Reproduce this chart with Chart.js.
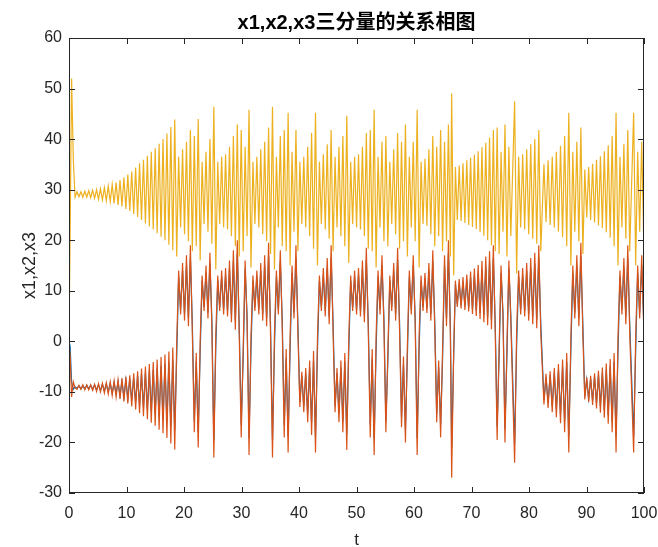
<!DOCTYPE html>
<html>
<head>
<meta charset="utf-8">
<script src="https://cdn.jsdelivr.net/npm/chart.js@4/dist/chart.umd.min.js"></script>
<style>
  html, body { margin:0; padding:0; background:#fff; }
  #box { width:658px; height:547px; }
</style>
</head>
<body>
<div id="box"><canvas id="chart" width="658" height="547"></canvas></div>
<script>
// values: one sample per half loop (peak / trough)
const tVals = [
  0, 0.2, 0.45, 0.75, 1.05,
  1.39, 1.73, 2.07, 2.41, 2.75, 3.09, 3.43, 3.77, 4.11, 4.45, 4.79, 5.13, 5.47, 5.81, 6.15, 6.49, 6.83, 7.17, 7.51, 7.85, 8.19, 8.53, 8.87, 9.21, 9.55, 9.89,
  10.23, 10.57, 10.91, 11.25, 11.59, 11.93, 12.27, 12.61, 12.95, 13.29, 13.63, 13.97, 14.31, 14.65, 14.99, 15.33, 15.67, 16.01, 16.35, 16.69, 17.03, 17.37, 17.71, 18.05, 18.39, 18.73,
  19.07, 19.41, 19.75, 20.09, 20.43, 20.77, 21.11, 21.45, 21.79, 22.13, 22.47, 22.81, 23.15, 23.49, 23.83, 24.17, 24.51, 24.85, 25.19, 25.53,
  25.87, 26.21, 26.55, 26.89, 27.23, 27.57, 27.91, 28.25, 28.59, 28.93, 29.27, 29.61, 29.95, 30.29, 30.63, 30.97, 31.31, 31.65, 31.99, 32.33,
  32.67, 33.01, 33.35, 33.69, 34.03, 34.37, 34.71, 35.05, 35.39, 35.73, 36.07, 36.41, 36.75, 37.09, 37.43, 37.77, 38.11, 38.45, 38.79, 39.13,
  39.47, 39.81, 40.15, 40.49, 40.83, 41.17, 41.51, 41.85, 42.19, 42.53, 42.87, 43.21, 43.55, 43.89, 44.23, 44.57, 44.91, 45.25, 45.59, 45.93,
  46.27, 46.61, 46.95, 47.29, 47.63, 47.97, 48.31, 48.65, 48.99, 49.33, 49.67, 50.01, 50.35, 50.69, 51.03, 51.37, 51.71, 52.05, 52.39, 52.73,
  53.07, 53.41, 53.75, 54.09, 54.43, 54.77, 55.11, 55.45, 55.79, 56.13, 56.47, 56.81, 57.15, 57.49, 57.83, 58.17, 58.51, 58.85, 59.19, 59.53,
  59.87, 60.21, 60.55, 60.89, 61.23, 61.57, 61.91, 62.25, 62.59, 62.93, 63.27, 63.61, 63.95, 64.29, 64.63, 64.97, 65.31, 65.65, 65.99, 66.33,
  66.55, 66.9, 67.2, 67.53, 67.86, 68.19, 68.52, 68.85, 69.18, 69.51, 69.84, 70.17, 70.5, 70.83, 71.16, 71.49, 71.82, 72.15, 72.48, 72.81, 73.14, 73.47, 73.8, 74.13,
  74.46, 74.8, 75.14, 75.48, 75.82, 76.16, 76.5, 76.84, 77.5, 77.85, 78.2, 78.55, 78.9, 79.25, 79.6, 79.95, 80.3, 80.65, 81.0, 81.35, 81.7, 82.05,
  82.6, 82.96, 83.32, 83.68, 84.04, 84.4, 84.76, 85.12, 85.48, 85.84, 86.2, 86.56, 86.92, 87.28, 87.62, 87.97, 88.32, 88.67, 89.02, 89.37,
  89.7, 90.04, 90.38, 90.72, 91.06, 91.4, 91.74, 92.08, 92.42, 92.76, 93.1, 93.44, 93.78, 94.12, 94.46, 94.8, 95.14, 95.48,
  95.82, 96.16, 96.5, 96.84, 97.18, 97.52, 98.2, 98.55, 98.9, 99.25, 99.6, 99.95
];
const x1Vals = [
  0, -1, -8, -9.5, -9,
  -9.3, -8.8, -9.4, -8.8, -9.4, -8.7, -9.4, -8.7, -9.5, -8.6, -9.6, -8.6, -9.7, -8.5, -9.8, -8.4, -10.0, -8.3, -10.2, -8.2, -10.4, -8.0, -10.7, -7.9, -11.0, -7.6,
  -11.3, -7.4, -11.7, -7.2, -12.1, -6.8, -12.6, -6.5, -13.0, -6.2, -13.5, -5.9, -13.9, -5.6, -14.4, -5.3, -14.9, -5.0, -15.4, -4.6, -16.0, -4.2, -16.8, -3.6, -17.6, -3.1,
  12.8, 6.3, 13.9, 5.4, 15.0, 4.6, 16.5, 3.5, -15.8, -4.1, -18.0, -2.4, 12.0, 6.8, 13.5, 5.7, 15.4, 4.3, -19.5, -1.3,
  12.0, 6.8, 12.8, 6.3, 13.1, 6.0, 14.3, 5.2, 15.8, 4.1, 17.3, 3.0, -16.5, -3.5, 14.3, 5.2, -19.1, -1.6, 12.0, 6.8,
  12.8, 6.3, 13.9, 5.4, 15.0, 4.6, 16.9, 3.2, -19.5, -1.3, 12.8, 6.3, 15.8, 4.1, -16.5, -3.5, -18.8, -1.9, 13.5, 5.7,
  16.5, 3.5, -12.0, -6.8, -12.8, -6.3, -14.3, -5.2, -16.1, -3.8, -18.8, -1.9, 12.0, 6.8, 13.1, 6.0, 14.6, 4.9, 16.5, 3.5,
  -12.8, -6.3, -14.3, -5.2, -15.8, -4.1, -18.4, -2.1, 12.0, 6.8, 12.8, 6.3, 13.1, 6.0, 14.3, 5.2, 16.1, 3.8, -16.5, -3.5,
  -19.1, -1.6, 12.8, 6.3, 15.0, 4.6, -15.8, -4.1, 12.0, 6.8, 13.9, 5.4, 16.1, 3.8, -15.0, -4.6, -17.3, -3.0, 12.8, 6.3,
  15.0, 4.6, -19.1, -1.6, 12.0, 6.8, 12.4, 6.5, 13.9, 5.4, 15.8, 4.1, -14.3, -5.2, -16.5, -3.5, 15.0, 4.6, 17.3, 3.0,
  -21, -3, 11.3, 7.4, 11.5, 7.2, 11.8, 7.0, 12.2, 6.7, 12.6, 6.4, 13.1, 6.0, 13.6, 5.6, 14.2, 5.2, 14.9, 4.7, 15.6, 4.2, 16.5, 3.5,
  -16.9, -3.2, 13.5, 5.7, -17.3, -3.0, 14.3, 5.2, -20.3, -0.8, 12.8, 6.3, 13.1, 6.0, 13.9, 5.4, 14.6, 4.9, 15.4, 4.3, 16.5, 3.5,
  -11.6, -7.1, -12.2, -6.7, -12.8, -6.3, -13.5, -5.7, -14.4, -5.0, -15.8, -4.1, -18.8, -1.9, 13.5, 5.7, 15.0, 4.6, 16.9, 3.2,
  -10.9, -7.6, -11.3, -7.4, -11.7, -7.0, -12.2, -6.6, -12.8, -6.2, -13.6, -5.6, -14.5, -5.0, -15.8, -4.1, -18.8, -1.9,
  12.8, 6.3, 14.6, 4.9, 16.5, 3.5, -18.8, -1.9, 13.5, 5.7, 15.0, 4.6
];
const x2Vals = [
  0, -3, -11, -8, -9.2,
  -9.5, -8.7, -9.5, -8.6, -9.6, -8.6, -9.6, -8.6, -9.7, -8.5, -9.9, -8.4, -10.0, -8.3, -10.2, -8.2, -10.4, -8.0, -10.7, -7.8, -11.0, -7.6, -11.4, -7.3, -11.9, -7.0,
  -12.3, -6.7, -12.9, -6.3, -13.5, -5.9, -14.2, -5.4, -14.8, -5.0, -15.4, -4.5, -16.1, -4.1, -16.7, -3.6, -17.5, -3.1, -18.2, -2.6, -19.1, -2.0, -20.2, -1.2, -21.4, -0.4,
  14.0, 5.3, 15.5, 4.1, 17.0, 3.0, 19.0, 1.5, -18.0, -2.3, -21.0, 0.0, 13.0, 6.0, 15.0, 4.5, 17.5, 2.6, -23.0, 1.5,
  13.0, 6.0, 14.0, 5.3, 14.5, 4.9, 16.0, 3.8, 18.0, 2.3, 20.0, 0.8, -19.0, -1.5, 16.0, 3.8, -22.5, 1.1, 13.0, 6.0,
  14.0, 5.3, 15.5, 4.1, 17.0, 3.0, 19.5, 1.1, -23.0, 1.5, 14.0, 5.3, 18.0, 2.3, -19.0, -1.5, -22.0, 0.8, 15.0, 4.5,
  19.0, 1.5, -13.0, -6.0, -14.0, -5.3, -16.0, -3.8, -18.5, -1.9, -22.0, 0.8, 13.0, 6.0, 14.5, 4.9, 16.5, 3.4, 19.0, 1.5,
  -14.0, -5.3, -16.0, -3.8, -18.0, -2.3, -21.5, 0.4, 13.0, 6.0, 14.0, 5.3, 14.5, 4.9, 16.0, 3.8, 18.5, 1.9, -19.0, -1.5,
  -22.5, 1.1, 14.0, 5.3, 17.0, 3.0, -18.0, -2.3, 13.0, 6.0, 15.5, 4.1, 18.5, 1.9, -17.0, -3.0, -20.0, -0.8, 14.0, 5.3,
  17.0, 3.0, -22.5, 1.1, 13.0, 6.0, 13.5, 5.6, 15.5, 4.1, 18.0, 2.3, -16.0, -3.8, -19.0, -1.5, 17.0, 3.0, 20.0, 0.8,
  -27, -2, 12.0, 6.8, 12.3, 6.5, 12.7, 6.2, 13.2, 5.9, 13.8, 5.4, 14.4, 5.0, 15.1, 4.4, 15.9, 3.8, 16.8, 3.2, 17.8, 2.4, 19.0, 1.5,
  -19.5, -1.1, 15.0, 4.5, -20.0, -0.8, 16.0, 3.8, -24.0, 2.3, 14.0, 5.3, 14.5, 4.9, 15.5, 4.1, 16.5, 3.4, 17.5, 2.6, 19.0, 1.5,
  -12.5, -6.4, -13.2, -5.9, -14.0, -5.3, -15.0, -4.5, -16.2, -3.6, -18.0, -2.3, -22.0, 0.8, 15.0, 4.5, 17.0, 3.0, 19.5, 1.1,
  -11.5, -7.1, -12.0, -6.8, -12.6, -6.3, -13.3, -5.8, -14.1, -5.2, -15.1, -4.4, -16.3, -3.5, -18.0, -2.3, -22.0, 0.8,
  14.0, 5.3, 16.5, 3.4, 19.0, 1.5, -22.0, 0.8, 15.0, 4.5, 17.0, 3.0
];
const x3Vals = [
  0, 22, 52, 36, 28.5,
  29.6, 28.6, 29.6, 28.5, 29.7, 28.5, 29.8, 28.4, 29.9, 28.3, 30.0, 28.1, 30.2, 28.0, 30.4, 27.8, 30.7, 27.6, 31.0, 27.3, 31.4, 27.0, 31.9, 26.7, 32.4, 26.2,
  33.0, 25.8, 33.6, 25.2, 34.4, 24.6, 35.2, 24.0, 35.9, 23.3, 36.7, 22.7, 37.5, 22.1, 38.2, 21.4, 39.1, 20.7, 40.0, 20.0, 41.1, 19.1, 42.4, 18.0, 43.9, 16.8,
  36.5, 22.5, 38.0, 21.2, 39.5, 19.8, 41.8, 17.8, 40.6, 18.8, 44.0, 16.0, 35.5, 23.2, 37.5, 21.7, 40.0, 19.3, 46.4, 14.2,
  35.5, 23.2, 36.5, 22.5, 37.0, 22.1, 38.5, 20.8, 40.6, 18.8, 42.9, 16.8, 41.8, 17.8, 38.5, 20.8, 45.8, 14.6, 35.5, 23.2,
  36.5, 22.5, 38.0, 21.2, 39.5, 19.8, 42.3, 17.3, 46.4, 14.2, 36.5, 22.5, 40.6, 18.8, 41.8, 17.8, 45.2, 15.0, 37.5, 21.7,
  41.8, 17.8, 35.5, 23.2, 36.5, 22.5, 38.5, 20.8, 41.2, 18.3, 45.2, 15.0, 35.5, 23.2, 37.0, 22.1, 39.0, 20.3, 41.8, 17.8,
  36.5, 22.5, 38.5, 20.8, 40.6, 18.8, 44.6, 15.5, 35.5, 23.2, 36.5, 22.5, 37.0, 22.1, 38.5, 20.8, 41.2, 18.3, 41.8, 17.8,
  45.8, 14.6, 36.5, 22.5, 39.5, 19.8, 40.6, 18.8, 35.5, 23.2, 38.0, 21.2, 41.2, 18.3, 39.5, 19.8, 42.9, 16.8, 36.5, 22.5,
  39.5, 19.8, 45.8, 14.6, 35.5, 23.2, 36.1, 22.8, 38.0, 21.2, 40.6, 18.8, 38.5, 20.8, 41.8, 17.8, 39.5, 19.8, 42.9, 16.8,
  49, 13, 34.5, 24.0, 34.8, 23.8, 35.2, 23.4, 35.8, 23.0, 36.3, 22.6, 36.9, 22.2, 37.6, 21.6, 38.4, 20.9, 39.3, 20.0, 40.3, 19.0, 41.8, 17.8,
  42.3, 17.3, 37.5, 21.7, 42.9, 16.8, 38.5, 20.8, 47.5, 13.4, 36.5, 22.5, 37.0, 22.1, 38.0, 21.2, 39.0, 20.3, 40.0, 19.3, 41.8, 17.8,
  35.0, 23.6, 35.8, 23.0, 36.5, 22.5, 37.5, 21.7, 38.7, 20.6, 40.6, 18.8, 45.2, 15.0, 37.5, 21.7, 39.5, 19.8, 42.3, 17.3,
  34.0, 24.5, 34.5, 24.0, 35.1, 23.5, 35.9, 22.9, 36.6, 22.4, 37.6, 21.6, 38.8, 20.5, 40.6, 18.8, 45.2, 15.0,
  36.5, 22.5, 39.0, 20.3, 41.8, 17.8, 45.2, 15.0, 37.5, 21.7, 39.5, 19.8
];
const xTicks = [0, 10, 20, 30, 40, 50, 60, 70, 80, 90, 100];
const yTicks = [-30, -20, -10, 0, 10, 20, 30, 40, 50, 60];

const titleText = 'x1,x2,x3三分量的关系相图';
const xLabel = 't';
const yLabel = 'x1,x2,x3';
const axisColor = '#262626';

function pts(vals){ return tVals.map((t,i)=>({x:t, y:vals[i]})); }

// box, inward ticks and the three texts, MATLAB style
const frame = {
  id: 'frame',
  afterDraw(chart){
    const {ctx, chartArea:a, scales:{x, y}} = chart;
    ctx.save();
    ctx.strokeStyle = axisColor;
    ctx.lineWidth = 1;
    ctx.strokeRect(a.left+0.5, a.top+0.5, a.right-a.left-1, a.bottom-a.top-1);
    ctx.beginPath();
    xTicks.forEach(v=>{
      const px = Math.round(x.getPixelForValue(v))+0.5;
      ctx.moveTo(px, a.bottom); ctx.lineTo(px, a.bottom-6);
      ctx.moveTo(px, a.top); ctx.lineTo(px, a.top+6);
    });
    yTicks.forEach(v=>{
      const py = Math.round(y.getPixelForValue(v))+0.5;
      ctx.moveTo(a.left, py); ctx.lineTo(a.left+6, py);
      ctx.moveTo(a.right, py); ctx.lineTo(a.right-6, py);
    });
    ctx.stroke();

    const cx = (a.left+a.right)/2;
    ctx.fillStyle = '#000';
    ctx.textAlign = 'center';
    ctx.textBaseline = 'middle';
    ctx.font = 'bold 20px "Liberation Sans", "Noto Sans CJK SC", sans-serif';
    ctx.fillText(titleText, cx, 23);

    ctx.fillStyle = axisColor;
    ctx.font = '17px "Liberation Sans", sans-serif';
    ctx.textBaseline = 'alphabetic';
    ctx.fillText(xLabel, cx, 545);

    ctx.translate(35, (a.top+a.bottom)/2);
    ctx.rotate(-Math.PI/2);
    ctx.font = '18px "Liberation Sans", sans-serif';
    ctx.fillText(yLabel, 0, 0);
    ctx.restore();
  }
};

Chart.defaults.font.family = '"Liberation Sans", Arial, sans-serif';

new Chart(document.getElementById('chart'), {
  type: 'line',
  data: {
    datasets: [
      {label:'x1', data: pts(x1Vals), borderColor:'#0072BD', order:3},
      {label:'x2', data: pts(x2Vals), borderColor:'#D95319', order:2},
      {label:'x3', data: pts(x3Vals), borderColor:'#EDB120', order:1}
    ]
  },
  options: {
    responsive: false,
    animation: false,
    devicePixelRatio: 1,
    datasets: { line: { borderWidth: 1.2, pointRadius: 0, tension: 0, fill: false } },
    layout: { padding: {left:0, right:14, top:38, bottom:0} },
    plugins: { legend:{display:false}, tooltip:{enabled:false}, title:{display:false} },
    scales: {
      x: {
        type: 'linear', min: 0, max: 100,
        afterBuildTicks: s => { s.ticks = xTicks.map(v=>({value:v})); },
        afterFit: s => { s.height = 54; s.paddingLeft = 0; s.paddingRight = 0; },
        grid: { display:false, drawTicks:false },
        border: { display:false },
        ticks: { color: axisColor, font:{size:16}, padding: 11, maxRotation: 0 }
      },
      y: {
        type: 'linear', min: -30, max: 60,
        afterBuildTicks: s => { s.ticks = yTicks.map(v=>({value:v})); },
        afterFit: s => { s.width = 69; s.paddingTop = 0; s.paddingBottom = 0; },
        grid: { display:false, drawTicks:false },
        border: { display:false },
        ticks: { color: axisColor, font:{size:16}, padding: 7 }
      }
    }
  },
  plugins: [frame]
});
</script>
</body>
</html>
